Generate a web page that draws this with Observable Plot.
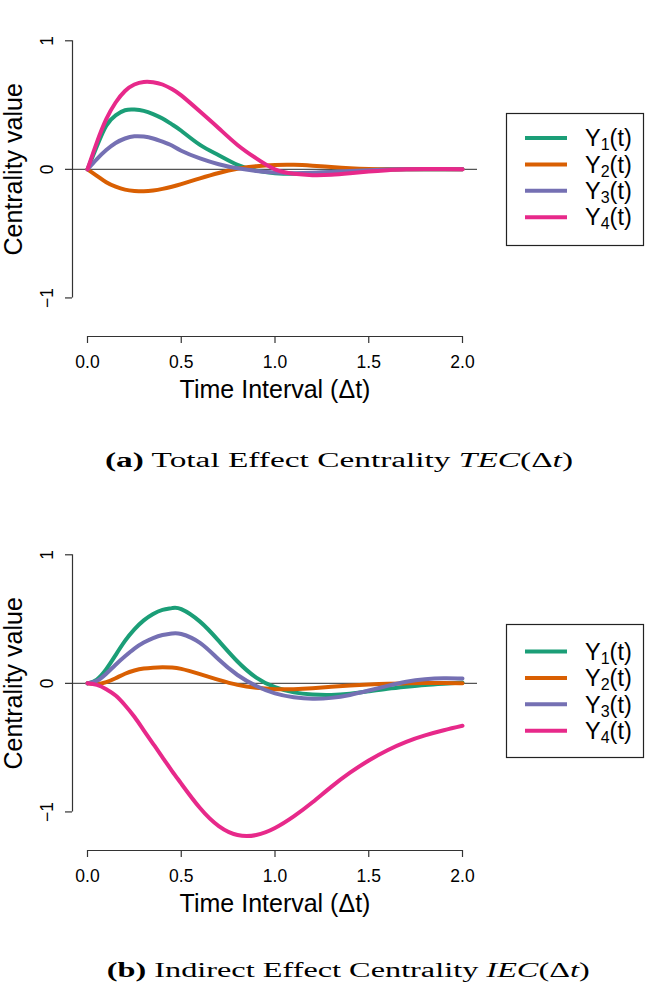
<!DOCTYPE html>
<html><head><meta charset="utf-8">
<script src="https://cdn.jsdelivr.net/npm/d3@7"></script>
<script src="https://cdn.jsdelivr.net/npm/@observablehq/plot@0.6"></script>
<style>
body{margin:0;background:#fff;}
#root{position:relative;width:646px;height:991px;overflow:hidden;background:#fff;}
.panel{position:absolute;left:0;}
#overlay{position:absolute;left:0;top:0;pointer-events:none;}
</style></head>
<body><div id="root"></div>
<script>
// ---- data ----
const times = [0,0.05,0.1,0.15,0.2,0.25,0.3,0.35,0.4,0.45,0.5,0.6,0.7,0.8,0.9,1.0,1.1,1.2,1.3,1.4,1.5,1.6,1.7,1.8,1.9,2.0];
const seriesNames = ["Y1(t)","Y2(t)","Y3(t)","Y4(t)"];
const seriesSubs = ["1","2","3","4"];
const colors = ["#1B9E77","#D95F02","#7570B3","#E7298A"];

// (a) Total Effect Centrality
const tecY1 = [0,0.18,0.34,0.42,0.46,0.465,0.455,0.43,0.395,0.35,0.30,0.19,0.11,0.035,-0.01,-0.03,-0.035,-0.03,-0.02,-0.01,-0.005,0,0,0,0,0];
const tecY2 = [0,-0.05,-0.10,-0.135,-0.158,-0.168,-0.171,-0.165,-0.152,-0.135,-0.115,-0.07,-0.028,0.005,0.025,0.034,0.035,0.028,0.018,0.009,0.003,0,0,0,0,0];
const tecY3 = [0,0.08,0.15,0.205,0.24,0.257,0.255,0.24,0.215,0.185,0.145,0.085,0.04,0.008,-0.012,-0.025,-0.03,-0.027,-0.02,-0.012,-0.006,-0.002,0,0,0,0];
const tecY4 = [0,0.21,0.39,0.52,0.61,0.66,0.68,0.678,0.66,0.625,0.575,0.45,0.32,0.19,0.085,0.0,-0.035,-0.045,-0.042,-0.03,-0.017,-0.007,0,0.002,0.002,0];

// (b) Indirect Effect Centrality
const iecY1 = [0,0.03,0.11,0.22,0.33,0.42,0.49,0.54,0.572,0.585,0.577,0.48,0.33,0.17,0.045,-0.03,-0.07,-0.087,-0.09,-0.08,-0.062,-0.043,-0.027,-0.013,-0.003,0.006];
const iecY2 = [0,-0.005,0.01,0.04,0.075,0.10,0.115,0.122,0.125,0.123,0.113,0.072,0.027,-0.012,-0.035,-0.045,-0.045,-0.038,-0.027,-0.017,-0.009,-0.003,0,0.002,0.002,0.001];
const iecY3 = [0,0.02,0.075,0.145,0.21,0.27,0.317,0.352,0.376,0.388,0.384,0.315,0.185,0.065,-0.02,-0.078,-0.108,-0.12,-0.113,-0.09,-0.056,-0.02,0.012,0.032,0.04,0.038];
const iecY4 = [0,-0.012,-0.045,-0.095,-0.17,-0.26,-0.365,-0.47,-0.575,-0.68,-0.78,-0.97,-1.11,-1.18,-1.18,-1.125,-1.035,-0.925,-0.805,-0.695,-0.60,-0.52,-0.455,-0.405,-0.365,-0.33];

const xTicks = [0,0.5,1,1.5,2];
const yTicks = [-1,0,1];
const xTitle = "Time Interval (\u0394t)";
const yTitle = "Centrality value";

// ---- layout ----
const xDomain = [-0.08, 2.08];
const yDomain = [-1.3, 1.08];
const panelTops = [0, 514];

function panel(series) {
  const rows = [];
  series.forEach((vals, i) => vals.forEach((v, j) => rows.push({t: times[j], v, s: seriesNames[i]})));
  return Plot.plot({
    width: 646, height: 406,
    marginLeft: 72, marginRight: 169, marginTop: 30, marginBottom: 70,
    x: {domain: xDomain},
    y: {domain: yDomain},
    color: {domain: seriesNames, range: colors},
    style: {fontFamily: "'Liberation Sans', Arial, sans-serif", background: "white", color: "#000", overflow: "visible"},
    marks: [
      Plot.ruleY([0], {stroke: "#555", strokeWidth: 1.3}),
      Plot.ruleX([xDomain[0]], {y1: yTicks[0], y2: yTicks[yTicks.length-1], stroke: "#333", strokeWidth: 1.2}),
      Plot.ruleY([yDomain[0]], {x1: xTicks[0], x2: xTicks[xTicks.length-1], stroke: "#333", strokeWidth: 1.2}),
      Plot.axisY({ticks: yTicks, tickSize: 7, tickPadding: 13, tickRotate: -90, fontSize: 17.5, label: null, stroke: "#333", strokeWidth: 1.2, tickFormat: d => d3.format("d")(d).replace("-", "\u2212")}),
      Plot.axisX({ticks: xTicks, tickSize: 7, tickPadding: 12, fontSize: 17.5, label: null, stroke: "#333", strokeWidth: 1.2, tickFormat: d3.format(".1f")}),
      Plot.line(rows, {x: "t", y: "v", z: "s", stroke: "s", strokeWidth: 4, curve: "natural"}),
      Plot.text([0], {y: d => d, text: () => yTitle, frameAnchor: "left", textAnchor: "middle", rotate: -90, dx: -59, lineAnchor: "middle", fontSize: 25}),
      Plot.text([1], {x: d => d, text: () => xTitle, frameAnchor: "bottom", lineAnchor: "bottom", dy: 61, fontSize: 25})
    ]
  });
}

const root = document.getElementById("root");
[[tecY1, tecY2, tecY3, tecY4], [iecY1, iecY2, iecY3, iecY4]].forEach((s, k) => {
  const svg = panel(s);
  svg.classList.add("panel");
  svg.style.top = panelTops[k] + "px";
  root.appendChild(svg);
});

// ---- legends and captions (overlay) ----
const ov = d3.select(root).append("svg").attr("id", "overlay").attr("width", 646).attr("height", 991);
const legendBoxes = [{x: 506, y: 113, w: 137, h: 132, row0: 25, dy: 26.4}, {x: 506, y: 624, w: 137, h: 133, row0: 27.5, dy: 26.4}];
legendBoxes.forEach(b => {
  const g = ov.append("g").attr("transform", `translate(${b.x},${b.y})`);
  g.append("rect").attr("x", 0.5).attr("y", 0.5).attr("width", b.w).attr("height", b.h).attr("fill", "white").attr("stroke", "#222").attr("stroke-width", 1.2);
  seriesSubs.forEach((sub, i) => {
    const yy = b.row0 + i * b.dy;
    g.append("line").attr("x1", 19).attr("x2", 61).attr("y1", yy).attr("y2", yy).attr("stroke", colors[i]).attr("stroke-width", 4);
    const t = g.append("text").attr("x", 79).attr("y", yy + 8.2).attr("font-family", "'Liberation Sans', Arial, sans-serif").attr("font-size", 23.5).attr("fill", "#000");
    t.append("tspan").text("Y");
    t.append("tspan").attr("font-size", 16).attr("dy", 4).text(sub);
    t.append("tspan").attr("dy", -4).text("(t)");
  });
});

const captions = [
  {x: 105, y: 466.7, w: 468, lab: "(a)", name: " Total Effect Centrality ", sym: "TEC"},
  {x: 106.7, y: 977.3, w: 483, lab: "(b)", name: " Indirect Effect Centrality ", sym: "IEC"}
];
captions.forEach(c => {
  const t = ov.append("text").attr("x", c.x).attr("y", c.y).attr("font-family", "'Liberation Serif', 'DejaVu Serif', serif").attr("font-size", 20.5).attr("fill", "#000");
  t.append("tspan").attr("font-weight", "bold").text(c.lab);
  t.append("tspan").text(c.name);
  t.append("tspan").attr("font-style", "italic").text(c.sym);
  t.append("tspan").text("(\u0394");
  t.append("tspan").attr("font-style", "italic").text("t");
  t.append("tspan").text(")");
  const natural = t.node().getComputedTextLength();
  if (natural > 0) {
    t.attr("textLength", c.w).attr("lengthAdjust", "spacingAndGlyphs");
  }
});
</script>
</body></html>
